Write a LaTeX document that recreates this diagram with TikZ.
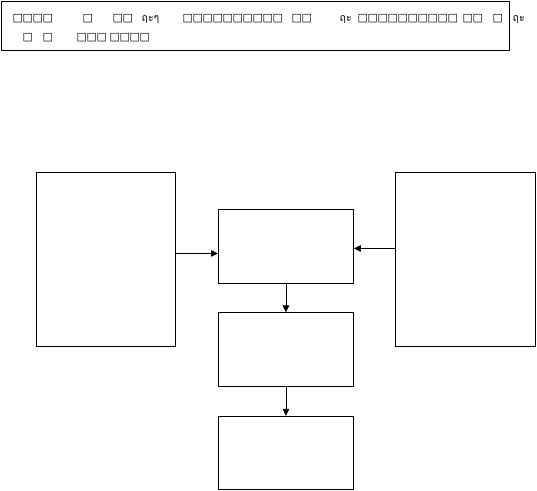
\documentclass[tikz,border=0pt]{standalone}
\usepackage{fontspec}
\newfontfamily\symfont{DejaVu Sans}
\newfontfamily\thaifont[Script=Thai]{Loma}
\usetikzlibrary{arrows.meta, positioning}

% one missing-glyph cell, 10pt pitch
\newcommand\sq{\makebox[10pt][l]{\symfont\fontsize{11}{13}\selectfont □}}
\newcommand\thg[1]{{\thaifont\fontsize{10.5}{12}\selectfont #1}}

\begin{document}
\begin{tikzpicture}[
        x=1pt, y=-1pt,
        node distance=29pt,
        box/.style={rectangle, draw, line width=0.9pt, inner sep=0pt, minimum width=135pt, minimum height=73.5pt},
        tallbox/.style={rectangle, draw, line width=0.9pt, inner sep=0pt, minimum width=139pt, minimum height=174pt},
        txt/.style={inner sep=0pt, anchor=base west},
        arrow/.style={-{Triangle[length=7pt, width=6.5pt]}, line width=0.9pt}
        ]
        \useasboundingbox (0,0) rectangle (537,490);

        \node (title) [draw, line width=0.9pt, inner sep=0pt, anchor=north west, minimum width=508pt, minimum height=49pt] at (1,1) {};
        \node (line1) [txt] at (12.5,21.5) {\sq\sq\sq\sq\hspace{30pt}\sq\hspace{20pt}\sq\sq\hspace{9pt}\makebox[41pt][l]{\thg{ฤะๆ}}\sq\sq\sq\sq\sq\sq\sq\sq\sq\sq\hspace{9pt}\sq\sq\hspace{28pt}\makebox[18pt][l]{\thg{ฤะ}}\sq\sq\sq\sq\sq\sq\sq\sq\sq\sq\hspace{5pt}\sq\sq\hspace{10pt}\sq\hspace{10pt}\thg{ฤะ}};
        \node (line2) [txt] at (22.5,40.5) {\sq\hspace{10pt}\sq\hspace{24pt}\sq\sq\sq\hspace{3pt}\sq\sq\sq\sq};

        \node (left) [tallbox, anchor=north west] at (36,172) {};
        \node (right) [tallbox, anchor=north west, minimum width=140pt] at (395,172) {};
        \node (top) [box, anchor=north west] at (218,209) {};
        \node (mid) [box, below=of top] {};
        \node (bottom) [box, below=of mid] {};

        \draw [arrow] ([yshift=6pt]left.east) -- ([yshift=6pt]left.east -| top.west);
        \draw [arrow] ([yshift=11pt]right.west) -- ([yshift=11pt]right.west -| top.east);
        \draw [arrow] (top) -- (mid);
        \draw [arrow] (mid) -- (bottom);
    \end{tikzpicture}
\end{document}
